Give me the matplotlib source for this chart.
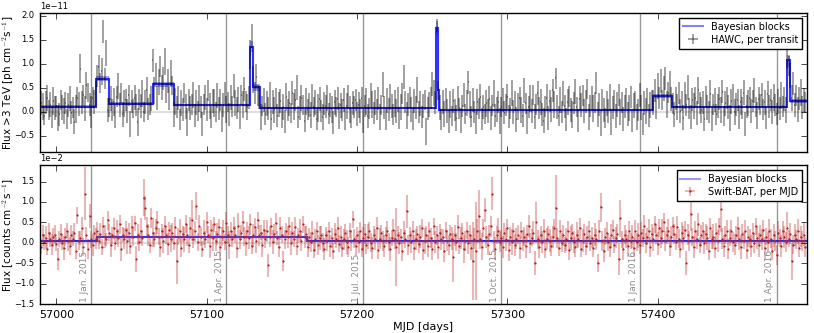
import numpy as np
import matplotlib
matplotlib.use("Agg")
import matplotlib.pyplot as plt

## dias (MJD), un punto por dia ##
mjd = np.arange(56989, 57499)

## HAWC flujo por transito, en unidades de 1e-13 ph cm^-2 s^-1 ##
hawc_flux = [
    5, 18, 12, -8, 20, 30, 4, 15, -10, 22, 8, 12, -12, -5, 25, 10, 2, 18, -15, 14,
    28, -2, 10, -20, 6, 30, 16, 90, 20, 35, 8, 56, 40, 15, 0, 30, 20,
    38, 75, 93, 60, 85, 167, 70, 122, 5,
    10, 28, 5, 20, -10, 32, 54, 15, 40, -5, 18, 25, 2, 35, -25, 22, 8, 30, 14, -20,
    26, 12, 38, 0, 20, 45, 6, 15, 28,
    108, 45, 80, 30, 62, 95, 50, 70, 105, 40, 65, 28, 82, 55,
    -5, 22, 10, 30, -15, 18, 5, 40, 12, -20, 25, 8, 15, 35, -8, 20, 2, 28, 10, -25,
    16, 30, 6, 45, 12, -10, 22, 18, 0, 35, 8, 25, -15, 14, 40, 5, 20, -5, 30, 12,
    55, 18, 8, 25, -12, 35, 15, 48, 22, 10, 30,
    120, 158,
    67, 40, 73, 35,
    30, -10, 12, 25, -5, 18, 8, 35, -15, 20, 5, 28, -8, 15, 22, -12, 10, -20, 32, 4,
    18, -2, 40, 12, 25, 50, -10, 8, 30, 15, -18, 22, 5, 14, -6, 35, 10, 20, -14, 8,
    26, 2, -10, 18, 12, 30, -4, 15, 6, -22, 20, 10, 28, -8, 14, 4, 24, -15, 12, 32,
    6, -12, 18, 10, 25, -5, 15, 2, 30, -18, 12, 22, -8, 8, 35, 16, -2, 20, 5, 28,
    -10, 14, 58, 10, -15, 24, 6, 32, 12, -6, 18, 2, 26, -12, 10, 38, 72, 20, -8, 15,
    30, 5, -15, 22, 10, 45, 0, 18, -10, 12, 25, -40, 8, 15, 30, 58, 40, 20,
    180, 45,
    10, -15, 20, -5, 28, 2, -20, 15, -8, 22, 5, -12, 30, 8, -18, 12, 35, -5, 18, 62,
    15, -10, 25, 0, -22, 20, 8, 32, -15, 10, -5, 18, 2, 28, -12, 14, 38, -8, 6, 20,
    -18, 10, 25, -2, 15, 32, -10, 8, 40, 0, 22, -15, 12, 30, 5, -8, 45, 18, -20, 10,
    28, 2, 35, -10, 15, 40, 8, 20, -5, -18, 12, 30, -12, 22, 5, 45, 15, 70, 10, -8,
    25, 0, 38, 12, -15, 20, 32, 5, -6, 18, 42, 10, -18, 28, 15, 35, 2, 22, 48, -10,
    12, 30, 8, 20, 60, -5, 15, -22, 25, 5, -12, 18, 2, 30, -20, 10, 24, -8, 15, 35,
    0, 20, -15, 12, 28, -5, 8, 32, -18, 14, 22, -10, 5, 35, 10, -25, 18, 2, 28, -8,
    15, 25,
    20, 45, 10, 55, 30, 65, 25, 48, 70, 15, 40, 60, 28,
    18, -5, 28, 10, 40, 2, 22, -12, 35, 15, 50, 8, -10, 25, 12, 30, -2, 45, 18, 5,
    20, -15, 32, 10, 0, 38, -15, 15, 25, -5, 12, 28, 5, 42, -8, 18, 30, 10, -12, 22,
    35, 0, 15, 25, -10, 20, 8, 40, -25, 12, 18, 30, 2, 22, 45, 10, -8, 28, 15, 35,
    5, 20, -12, 38, 12, 25, 0, 30, 15, -5, 22, 8, 35, 12, 28, 5,
    113, 95,
    75, 30, 60, 15, 35, 5, 28, 40, 10, 25, 20,
]
hawc_err = [
    22, 25, 28, 20, 24, 27, 21, 26, 23, 29, 25, 22, 27, 24, 20, 26, 28, 23, 21, 25,
    27, 24, 22, 26, 29, 21, 25, 30, 24, 22, 26, 28, 20, 24, 33, 22, 25, 27, 23, 26,
    21, 28, 24, 22, 27, 25, 20, 26, 23, 29, 24, 22, 27, 25, 21, 26, 28, 23, 25, 22,
    27, 24, 20, 26, 23, 29, 22, 25, 28, 21, 25, 27, 23, 22, 26, 24, 28, 21, 25, 27,
    22, 26, 24, 29, 21, 25, 23, 27, 20, 26, 28, 23, 25, 22, 27, 24, 21, 26, 29, 23,
    25, 22, 27, 24, 26, 21, 28, 23, 25, 22, 26, 24, 22, 27, 23, 25, 29, 21, 26, 24,
    22, 27, 25, 23, 28, 21, 24, 26, 22, 25, 27, 23, 26, 24, 21, 28, 25, 22, 27, 24,
    30, 25, 28, 23, 26, 22, 24, 27, 21, 25, 23, 26, 24, 28, 22, 25, 27, 21, 24, 26,
    25, 22, 27, 24, 29, 23, 26, 21, 25, 28, 22, 26, 23, 25, 27, 21, 24, 28, 22, 25,
    27, 24, 21, 26, 23, 29, 25, 22, 27, 24, 24, 27, 22, 25, 28, 23, 26, 21, 24, 27,
    26, 23, 25, 22, 27, 24, 28, 21, 25, 23, 22, 25, 27, 24, 21, 26, 23, 28, 25, 22,
    25, 28, 23, 26, 22, 24, 27, 21, 26, 24, 23, 26, 24, 27, 25, 22, 28, 24, 26, 23,
    27, 22, 25, 23, 28, 24, 21, 26, 23, 25, 24, 27, 22, 26, 23, 25, 21, 28, 24, 26,
    23, 25, 27, 24, 14, 20, 26, 22, 25, 27, 22, 26, 24, 28, 21, 25, 23, 27, 24, 22,
    26, 23, 25, 21, 27, 24, 28, 22, 25, 23, 24, 27, 22, 26, 23, 25, 21, 28, 24, 26,
    25, 22, 28, 24, 26, 23, 27, 21, 25, 24, 23, 26, 24, 22, 27, 25, 21, 26, 28, 23,
    27, 24, 26, 22, 25, 23, 28, 24, 21, 26, 22, 25, 23, 27, 24, 26, 22, 28, 25, 23,
    26, 24, 28, 22, 25, 21, 27, 23, 26, 24, 24, 27, 22, 25, 28, 23, 26, 21, 24, 27,
    25, 22, 26, 24, 21, 27, 23, 25, 28, 22, 23, 26, 24, 27, 22, 25, 21, 26, 24, 28,
    27, 24, 22, 25, 26, 23, 28, 22, 25, 24, 22, 25, 27, 23, 24, 26, 21, 27, 23, 25,
    26, 23, 25, 28, 22, 24, 27, 21, 26, 24, 24, 27, 23, 25, 21, 26, 24, 28, 22, 25,
    25, 22, 26, 24, 27, 23, 25, 21, 26, 28, 23, 26, 22, 25, 24, 27, 21, 25, 28, 23,
    27, 24, 25, 22, 26, 23, 28, 24, 22, 25, 22, 25, 23, 27, 24, 21, 26, 23, 25, 27,
    26, 23, 28, 24, 22, 25, 27, 23, 26, 24, 24, 27, 22, 25, 23, 26, 21, 28, 24, 22,
    25, 22, 26, 23, 27, 24, 22, 25, 28, 23, 23, 26, 24, 28, 22, 25, 27, 24, 21, 26,
    27, 24, 25, 22, 26, 23, 28, 24, 25, 22,
]

## Swift-BAT flujo por MJD, en unidades de 1e-4 counts cm^-2 s^-1 ##
swift_flux = [
    5, -10, 18, 2, 12, -15, 25, 8, -5, 15, 20, -2, -40, 10, 22, 0, -12, 15, 30, 5,
    -8, 18, 10, 25, -20, 67, 5, 12, 35, -10, 120, 20, -15, 65, 8, -5, 25, 10,
    30, 5, 22, -10, 40, 15, 8, 55, 25, -5, 18, 35, 0, 28, 12, 45, -15, 20, 10, 32,
    5, 25, -8, 38, 15, 48, -40, 20, 2, 30, 12, 110, 85, 40, 18, -5, 60, 25, 8, 35,
    50, 15, -10, 28, 5, 42, 20, -2, 32, 10, 25, 0, 38, -45, 15, 30, -12, 22, 8, 45,
    18, -5, 35, 55, 10, 28, 90, 2, 40, 15, -15, 25, 8, 50, 20, -8, 32, 12, 45, 5,
    22, 38, -10, 15, 30, 2, 48, 18, -5, 28, 10, 35, 20, -12, 42, 8, 25, 52, 15, 0,
    30, 12, 45, -8, 20, 38, 5, 55, 18, 25, -5, 32, 10, 28, -55, 15, 40, 2, 22, 48,
    12, -10, 35, 20, -45, 8, 30, 15, 42, 0, 25, 10, 38, -8, 18, 30, 5, 45, 15, 22,
    -10, 15, 2, 25, -18, 8, 30, -5, 12, 20, 0, -15, 18, 5, 28, -8, 12, -20, 22, 10,
    35, -2, 15, -12, 8, 25, 2, -10, 30, 5, 57, 10, -8, 18, 2, 28, -15, 12, 22, -5,
    15, 30, 0, -12, 20, 8, 35, -18, 10, 25, 5, -8, 18, 28, 2, -15, 12, 32, 8, -10,
    20, 0, 15, -20, 25, 10, 77, -5, 18, 2, 30, -12, 8, 22, -2, 15, 35, -18, 5, 20,
    -8, 28, 12, -15, 40, 2, 18, -10, 25, 8, 15, -20, 30, 5, -5, 22, 10, -35, 18, 2,
    38, -8, 12, 25, -15, 5, 30, 0, 20, -12, -45, 10, -20, 28, 65, 8, -10, 35, 80, 15,
    -5, 22, 40, 120, 5, -15, 18, 30, 2, 12, -10, 25, 8, 35, -18, 15, 2, 28, -5, 10,
    20, -12, 30, 5, 15, -8, 22, 40, 0, 12, 25, -50, 50, 8, -10, 18, 2, 30, -15, 10,
    22, 5, -8, 15, 35, 85, 12, -12, 28, 0, 18, -5, 8, 30, -18, 12, 25, 2, -10, 20,
    10, 35, -15, 5, 22, -8, 15, 28, 0, 12, -12, 20, 8, -50, 30, 87, 5, -20, 15, 25,
    2, -10, 18, 32, -5, 12, 22, -40, 60, 8, -15, 20, 10, -8, 28, 5, 15, -12, 30, 2,
    18, -5, 25, 12, 40, 0, 15, 30, -10, 22, 8, 45, 20, -2, 35, 12, 28, 50, 5, 18,
    30, -8, 15, 40, 22, 2, 38, 10, -15, 25, 12, 32, -50, 20, 5, 70, 15, -10, 28, 8,
    45, -5, 18, 30, 0, 22, 12, -20, 35, 8, 15, -12, 25, 5, 40, 82, 10, -8, 20, 30,
    -15, 12, 28, 2, -5, 18, 35, 8, -10, 22, 5, 30, -18, 15, 10, -8, 25, 0, 40, 12,
    -5, 20, 8, 32, -12, 15, 2, 28, 10, -20, 18, 5, -30, 25, 12, -8, 30, 15, 2, 35,
    10, 22, -45, -5, 18, 8, 28, -12, 15, 5, 20, -10,
]
swift_err = [
    22, 18, 25, 20, 28, 16, 24, 19, 26, 21, 23, 17, 27, 20, 24, 18, 29, 22, 19, 25,
    21, 26, 18, 24, 20, 20, 23, 17, 28, 22, 65, 19, 24, 30, 21, 27, 18, 25, 22, 20,
    26, 19, 23, 28, 17, 24, 21, 30, 20, 25, 18, 27, 22, 24, 29, 19, 26, 21, 32, 23,
    20, 28, 24, 18, 32, 25, 22, 30, 19, 45, 30, 23, 27, 20, 25, 35, 18, 24, 28, 21,
    26, 19, 30, 23, 22, 27, 20, 33, 24, 18, 25, 55, 21, 28, 24, 19, 30, 22, 26, 20,
    27, 50, 23, 25, 35, 21, 28, 24, 19, 31, 22, 26, 20, 29, 24, 33, 18, 25, 27, 21,
    30, 23, 26, 19, 28, 22, 35, 24, 20, 27, 21, 25, 30, 23, 18, 26, 24, 32, 22, 28,
    25, 20, 27, 23, 29, 21, 26, 19, 31, 24, 22, 27, 28, 25, 20, 30, 23, 26, 18, 24,
    28, 21, 25, 24, 19, 27, 22, 30, 25, 20, 26, 23, 18, 29, 24, 21, 27, 20, 25, 22,
    24, 28, 19, 26, 22, 25, 30, 21, 23, 27, 20, 25, 22, 28, 24, 19, 26, 23, 29, 21,
    27, 22, 25, 20, 30, 24, 18, 26, 20, 23, 25, 21, 28, 23, 19, 27, 24, 22, 30, 20,
    23, 27, 20, 25, 29, 22, 26, 19, 24, 28, 21, 25, 23, 30, 20, 26, 24, 95, 22, 27,
    19, 24, 28, 22, 40, 25, 21, 27, 23, 30, 26, 20, 24, 29, 22, 25, 32, 21, 27, 23,
    24, 28, 20, 26, 23, 30, 22, 25, 19, 27, 22, 26, 24, 21, 28, 60, 25, 23, 30, 20,
    27, 23, 35, 25, 22, 28, 24, 30, 95, 26, 120, 29, 65, 24, 33, 22, 30, 27, 25, 21,
    26, 40, 24, 28, 22, 30, 25, 20, 27, 23, 29, 22, 26, 24, 31, 21, 27, 25, 23, 28,
    20, 26, 24, 30, 22, 27, 25, 21, 28, 30, 50, 24, 27, 22, 26, 29, 23, 25, 20, 28,
    24, 27, 22, 80, 25, 21, 28, 23, 26, 20, 27, 23, 25, 29, 21, 26, 24, 30, 22, 25,
    20, 28, 24, 22, 27, 25, 19, 26, 23, 29, 25, 22, 26, 35, 24, 28, 21, 27, 23, 25,
    28, 24, 21, 26, 23, 40, 45, 22, 27, 24, 22, 27, 25, 20, 28, 24, 26, 21, 30, 23,
    26, 22, 29, 24, 21, 27, 25, 23, 28, 20, 24, 28, 22, 26, 30, 23, 25, 21, 27, 24,
    27, 23, 25, 20, 28, 24, 22, 26, 29, 21, 30, 26, 24, 40, 22, 27, 25, 23, 28, 20,
    25, 22, 27, 24, 29, 21, 26, 23, 30, 25, 23, 27, 20, 55, 25, 28, 22, 26, 24, 21,
    28, 24, 26, 22, 27, 25, 30, 23, 21, 26, 22, 26, 24, 28, 23, 25, 21, 27, 29, 24,
    26, 23, 27, 21, 25, 30, 24, 22, 28, 25, 24, 28, 22, 26, 23, 27, 25, 40, 21, 26,
    45, 23, 27, 24, 30, 22, 26, 25, 28, 24,
]

## bloques bayesianos (bordes en MJD, nivel y ancho de banda) ##
hawc_edges = [56989, 57026.4, 57034.8, 57064, 57078.2, 57128.9, 57130.7, 57135.1,
              57252.5, 57253.8, 57254.7, 57396.9, 57409.7, 57486, 57488, 57499]
hawc_blocks = [0.11, 0.69, 0.17, 0.58, 0.15, 1.36, 0.51, 0.08, 1.75, 0.45, 0.05,
               0.33, 0.11, 1.08, 0.23]
hawc_blocks_err = [0.03, 0.05, 0.03, 0.05, 0.02, 0.12, 0.07, 0.02, 0.15, 0.08, 0.02,
                   0.04, 0.02, 0.10, 0.04]

swift_edges = [56989, 57027, 57166.5, 57499]
swift_blocks = [0.05, 0.14, 0.05]
swift_blocks_err = [0.02, 0.01, 0.01]

## fechas de referencia ##
fechas = [57023, 57113, 57204, 57296, 57388, 57479]
fechas_txt = ["1 Jan. 2015", "1 Apr. 2015", "1 Jul. 2015", "1 Oct. 2015",
              "1 Jan. 2016", "1 Apr. 2016"]

plt.style.use("classic")
plt.rcParams["figure.facecolor"] = "white"
plt.rcParams["savefig.facecolor"] = "white"

hf = np.array(hawc_flux) * 1e-13
he = np.array(hawc_err) * 1e-13
sf = np.array(swift_flux) * 1e-4
se = np.array(swift_err) * 1e-4
hb = np.array(hawc_blocks) * 1e-11
hbe = np.array(hawc_blocks_err) * 1e-11
sb = np.array(swift_blocks) * 1e-2
sbe = np.array(swift_blocks_err) * 1e-2

fig = plt.figure(figsize=(8.14, 3.33), dpi=100)
ax1 = fig.add_axes([0.049, 0.544, 0.942, 0.417])
ax2 = fig.add_axes([0.049, 0.087, 0.942, 0.417])

##panel superior: HAWC##
ax1.axhline(0, color="0.88", lw=1.5, zorder=0)
for f in fechas:
    ax1.axvline(f, color="0.6", lw=1, zorder=0)
ax1.errorbar(mjd, hf, yerr=he, xerr=0.1, fmt="none", ecolor=(0, 0, 0, 0.4),
             elinewidth=1.3, capsize=0, label="HAWC, per transit")
ax1.stairs(hb + hbe, hawc_edges, baseline=hb - hbe, fill=True, color="b",
           alpha=0.35, lw=0)
ax1.stairs(hb, hawc_edges, baseline=None, color="b", lw=1.5, alpha=0.8)
ax1.plot([], [], color="b", alpha=0.5, lw=1.5, label="Bayesian blocks")
ax1.set_xlim(56989, 57499)
ax1.set_ylim(-0.83e-11, 2.06e-11)
ax1.set_yticks(np.arange(-0.5, 2.01, 0.5) * 1e-11)
ax1.set_xticks([57000, 57100, 57200, 57300, 57400])
ax1.set_xticklabels([])
ax1.set_ylabel("Flux >3 TeV [ph cm$^{-2}$s$^{-1}$]", fontsize=7.5)
ax1.yaxis.set_label_coords(-0.031, 0.5)
ax1.tick_params(axis="y", labelsize=6)
ax1.yaxis.get_offset_text().set_fontsize(6)
ax1.legend(loc="upper right", fontsize=7, numpoints=1,
           handlelength=2, borderpad=0.4, labelspacing=0.3)

##panel inferior: Swift-BAT##
ax2.axhline(0, color="0.88", lw=1.5, zorder=0)
for f, t in zip(fechas, fechas_txt):
    ax2.axvline(f, color="0.6", lw=1, zorder=0)
    ax2.text(f - 1.5, -1.45e-2, t, rotation=90, ha="right", va="bottom",
             color="0.55", fontsize=6.5)
ax2.errorbar(mjd, sf, yerr=se, xerr=0.3, fmt=".", color="#b22222", ms=2,
             ecolor=(0.75, 0.2, 0.2, 0.35), elinewidth=1.5, capsize=0,
             label="Swift-BAT, per MJD")
ax2.stairs(sb + sbe, swift_edges, baseline=sb - sbe, fill=True, color="b",
           alpha=0.35, lw=0)
ax2.stairs(sb, swift_edges, baseline=None, color="b", lw=1.5, alpha=0.8)
ax2.plot([], [], color="b", alpha=0.4, lw=1.5, label="Bayesian blocks")
ax2.set_xlim(56989, 57499)
ax2.set_ylim(-1.5e-2, 1.9e-2)
ax2.set_yticks(np.arange(-1.5, 1.51, 0.5) * 1e-2)
ax2.set_xticks([57000, 57100, 57200, 57300, 57400])
ax2.ticklabel_format(axis="x", useOffset=False, style="plain")
ax2.ticklabel_format(axis="y", style="sci", scilimits=(0, 0))
ax2.set_xlabel("MJD [days]", fontsize=8, labelpad=2)
ax2.set_ylabel("Flux [counts cm$^{-2}$s$^{-1}$]", fontsize=7.5)
ax2.yaxis.set_label_coords(-0.031, 0.5)
ax2.tick_params(axis="y", labelsize=6)
ax2.tick_params(axis="x", labelsize=8)
ax2.yaxis.get_offset_text().set_fontsize(6)
ax2.legend(loc="upper right", fontsize=7, numpoints=1,
           handlelength=2, borderpad=0.4, labelspacing=0.3)

plt.savefig("out.png", dpi=100)
